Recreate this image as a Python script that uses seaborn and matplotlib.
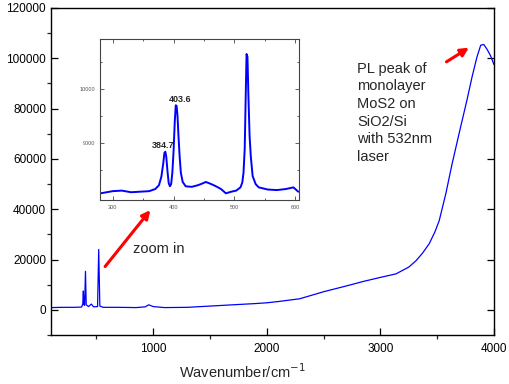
"""Raman / PL spectrum of monolayer MoS2 with a zoomed inset of the Raman peaks."""

import matplotlib
matplotlib.use("Agg")
import matplotlib.pyplot as plt
from matplotlib.ticker import MultipleLocator, FixedLocator
import pandas as pd
import seaborn as sns

# full spectrum
wavenumber = [100, 200, 300, 370, 380, 384.7, 389, 396, 403.6, 410, 430, 455, 475,
              510, 520, 530, 560, 700, 850, 930, 960, 1000, 1100, 1300, 1500, 1700,
              1900, 2000, 2100, 2289, 2500, 2700, 2850, 3000, 3137, 3250, 3313, 3370,
              3430, 3480, 3518, 3576, 3632, 3700, 3760, 3807, 3850, 3883, 3910, 3940,
              3970, 4000]
intensity = [900, 1000, 1000, 1100, 2500, 7500, 2000, 1800, 15300, 2000, 1300, 2300, 1200,
             1300, 24000, 1500, 1000, 1000, 900, 1200, 2000, 1300, 900, 1000, 1500, 2000,
             2500, 2800, 3300, 4400, 7200, 9500, 11300, 12900, 14300, 17000, 19500, 22500,
             26300, 31000, 35500, 46200, 58200, 71500, 83000, 92600, 100500, 105200, 105500,
             103500, 101000, 97500]

# zoomed Raman region (inset)
inset_wavenumber = [280, 290, 300, 315, 330, 345, 360, 370, 376, 380, 383, 385, 386.5,
                    388, 390, 392, 394, 396, 398, 400, 402, 403.6, 405, 406.5, 408, 410,
                    412, 415, 420, 430, 440, 447, 453, 460, 468, 478, 486, 495, 503, 510,
                    513, 515, 517, 518.5, 520, 521.5, 523, 525, 527, 530, 535, 540, 555,
                    570, 585, 597, 605]
inset_intensity = [8070, 8090, 8110, 8120, 8090, 8100, 8110, 8150, 8220, 8380, 8620, 8820,
                   8840, 8750, 8480, 8260, 8200, 8240, 8450, 8850, 9400, 9700, 9690, 9500,
                   9150, 8750, 8450, 8280, 8200, 8190, 8220, 8250, 8280, 8250, 8210, 8150,
                   8070, 8100, 8120, 8180, 8270, 8450, 8900, 9800, 10650, 10600, 9900,
                   9130, 8750, 8390, 8240, 8180, 8140, 8130, 8150, 8180, 8100]

peak_labels = ["384.7", "403.6"]
peak_pos = [(382, 8960), (410, 9805)]

spec = pd.DataFrame({"x": wavenumber, "y": intensity})
zoom = pd.DataFrame({"x": inset_wavenumber, "y": inset_intensity})

sns.set_style("ticks")
plt.rcParams["font.family"] = ["Liberation Sans", "DejaVu Sans"]

fig = plt.figure(figsize=(5.1, 3.84), dpi=100)
ax = fig.add_axes([0.1, 0.1276, 0.8686, 0.8516])
sns.lineplot(data=spec, x="x", y="y", ax=ax, color="#0000ff", linewidth=0.9)

ax.set_xlim(100, 4000)
ax.set_ylim(-10000, 120000)
ax.xaxis.set_major_locator(MultipleLocator(1000))
ax.xaxis.set_minor_locator(MultipleLocator(500))
ax.yaxis.set_major_locator(MultipleLocator(20000))
ax.yaxis.set_minor_locator(MultipleLocator(10000))
ax.tick_params(which="major", direction="in", length=5, width=0.9, labelsize=8.5,
               right=True, colors="black")
ax.tick_params(which="minor", direction="out", length=3, width=0.9)
ax.tick_params(axis="x", pad=6)
for s in ax.spines.values():
    s.set_linewidth(1.0)
    s.set_color("black")
ax.set_ylabel("")
ax.set_xlabel("Wavenumber/cm$^{-1}$", fontsize=10.5)
ax.xaxis.set_label_coords(0.433, -0.083)

# annotations
ax.annotate("", xy=(990, 40500), xytext=(561, 16350),
            arrowprops=dict(arrowstyle="-|>", color="red", lw=2.2, mutation_scale=12))
ax.text(825, 24300, "zoom in", fontsize=10.5, va="center")
ax.annotate("", xy=(3800, 104800), xytext=(3561, 98000),
            arrowprops=dict(arrowstyle="-|>", color="red", lw=2.2, mutation_scale=12))
ax.text(2798, 78300, "PL peak of\nmonolayer\nMoS2 on\nSiO2/Si\nwith 532nm\nlaser",
        fontsize=10.5, va="center", linespacing=1.33)

# inset
ins = fig.add_axes([0.196, 0.479, 0.390, 0.419])
sns.lineplot(data=zoom, x="x", y="y", ax=ins, color="#0000ff", linewidth=1.4)
ins.set_xlim(279, 606)
ins.set_ylim(7945, 10925)
ins.xaxis.set_major_locator(MultipleLocator(100))
ins.xaxis.set_minor_locator(MultipleLocator(50))
ins.yaxis.set_major_locator(FixedLocator([9000, 10000]))
ins.yaxis.set_minor_locator(FixedLocator([8500, 9500, 10500]))
ins.tick_params(which="both", direction="in", top=True, right=True, labelsize=4,
                labelcolor="#555555", color="#444444", width=0.6)
ins.tick_params(which="major", length=3)
ins.tick_params(which="minor", length=1.5)
for s in ins.spines.values():
    s.set_linewidth(0.8)
    s.set_color("#444444")
ins.set_xlabel("")
ins.set_ylabel("")
for lab, (px, py) in zip(peak_labels, peak_pos):
    ins.text(px, py, lab, fontsize=6.5, ha="center", va="center", fontweight="bold")

fig.savefig("out.png", dpi=100)
